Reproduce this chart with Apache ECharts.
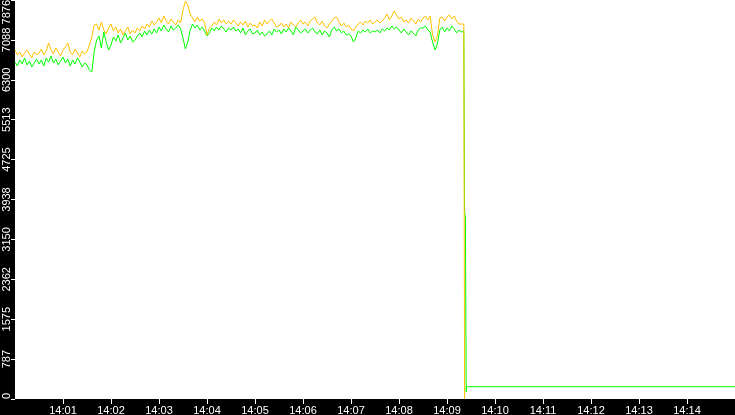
<!DOCTYPE html>
<html>
<head>
<meta charset="utf-8">
<script src="https://cdn.jsdelivr.net/npm/echarts@6/dist/echarts.min.js"></script>
<style>
html,body{margin:0;padding:0;background:#000;}
#chart{width:735px;height:415px;}
</style>
</head>
<body>
<div id="chart"></div>
<script>
// x axis: seconds after 14:00:00
const xMin = 0;
const xMax = 900;
const xTickSeconds = [60,120,180,240,300,360,420,480,540,600,660,720,780,840];
const xTickLabels = ['14:01','14:02','14:03','14:04','14:05','14:06','14:07','14:08','14:09','14:10','14:11','14:12','14:13','14:14'];

// y axis
const yMin = 0;
const yMax = 7876;
const yInterval = 787.6;
const yTickLabels = ['0','787','1575','2362','3150','3938','4725','5513','6300','7088','7876'];

// samples every 3 s from 14:00:00
const sampleSeconds = 3;

const yellowValues = [
6889,6790,6850,6751,6830,6889,6810,6731,6850,6790,
6830,6909,6790,6869,7027,6889,6810,6928,6850,6771,
6889,6948,7027,6850,6790,6909,6830,6751,6869,6810,
6850,6988,7146,7383,7402,7284,7442,7284,7205,7323,
7402,7264,7343,7225,7304,7185,7264,7343,7205,7284,
7225,7323,7264,7363,7304,7402,7343,7461,7383,7442,
7521,7422,7560,7461,7402,7501,7442,7383,7481,7422,
7679,7856,7777,7600,7521,7442,7540,7461,7501,7422,
7185,7323,7363,7442,7383,7501,7422,7481,7402,7461,
7402,7481,7422,7363,7442,7383,7461,7343,7422,7363,
7383,7323,7442,7363,7481,7402,7461,7501,7422,7343,
7363,7422,7343,7402,7323,7442,7383,7343,7422,7481,
7402,7442,7363,7461,7501,7540,7422,7383,7461,7363,
7323,7402,7461,7521,7540,7442,7363,7422,7343,7383,
7304,7264,7343,7402,7442,7383,7461,7422,7481,7402,
7442,7481,7422,7461,7521,7600,7481,7560,7659,7580,
7501,7540,7442,7481,7422,7521,7461,7402,7501,7442,
7521,7560,7481,7560,7185,7047,7166,7521,7540,7461,
7540,7580,7501,7560,7461,7402,7402,7402
];
const yellowTail = [[562, 0]];

const greenValues = [
6652,6573,6692,6613,6731,6593,6672,6553,6633,6711,
6613,6692,6573,6731,6652,6771,6633,6711,6593,6672,
6751,6633,6711,6573,6692,6613,6731,6652,6553,6633,
6593,6494,6455,6850,7086,7166,6928,7244,7047,6889,
6988,7146,7067,7185,7027,7126,7225,7086,7166,7047,
7086,7166,7225,7146,7264,7185,7284,7205,7304,7225,
7343,7264,7383,7304,7244,7363,7284,7323,7383,7304,
7126,6909,7047,7284,7402,7323,7383,7284,7343,7264,
7166,7225,7323,7264,7343,7284,7363,7304,7244,7323,
7284,7343,7264,7304,7225,7323,7185,7264,7304,7205,
7225,7284,7185,7244,7166,7205,7264,7185,7304,7244,
7284,7205,7304,7244,7323,7264,7185,7343,7284,7225,
7264,7304,7225,7284,7323,7244,7205,7284,7185,7264,
7225,7146,7284,7343,7264,7304,7225,7264,7185,7205,
7166,7047,7126,7264,7225,7284,7244,7304,7225,7264,
7244,7284,7225,7304,7264,7323,7284,7363,7304,7343,
7284,7225,7304,7244,7185,7264,7225,7166,7284,7323,
7323,7363,7284,7244,7047,6889,7007,7284,7343,7244,
7323,7264,7363,7304,7225,7284,7244,7264
];
const greenTail = [[562, 3677], [563, 3620], [564, 138], [564.5, 243], [900, 243]];

function toPairs(values, tail) {
  const out = values.map((v, i) => [i * sampleSeconds, v]);
  return out.concat(tail);
}

const chart = echarts.init(document.getElementById('chart'), null, {renderer: 'canvas'});
const labelFont = {color: '#fff', fontFamily: 'Liberation Sans', fontSize: 11};

chart.setOption({
  backgroundColor: '#000',
  animation: false,
  grid: {
    left: 15, right: 0, top: 0, bottom: 16,
    show: true, backgroundColor: '#fff', borderWidth: 0,
    outerBoundsMode: 'none'
  },
  xAxis: {
    type: 'value',
    min: xMin, max: xMax,
    axisLine: {show: true, lineStyle: {color: '#000'}},
    axisTick: {show: true, length: 5, lineStyle: {color: '#fff', width: 1}, customValues: xTickSeconds},
    axisLabel: Object.assign({
      margin: 6,
      customValues: xTickSeconds,
      formatter: function (v) {
        const i = xTickSeconds.indexOf(v);
        return i >= 0 ? xTickLabels[i] : '';
      }
    }, labelFont),
    splitLine: {show: false}
  },
  yAxis: {
    type: 'value',
    min: yMin, max: yMax, interval: yInterval,
    axisLine: {show: false},
    axisTick: {show: true, length: 4, lineStyle: {color: '#fff', width: 1}},
    axisLabel: Object.assign({
      rotate: 90,
      margin: 3,
      alignMaxLabel: 'right',
      alignMinLabel: 'left',
      formatter: function (v, idx) {
        const i = Math.round(v / yInterval);
        return yTickLabels[i] !== undefined ? yTickLabels[i] : '';
      }
    }, labelFont),
    splitLine: {show: false}
  },
  series: [
    {
      type: 'line', name: 'green', showSymbol: false, symbol: 'none',
      data: toPairs(greenValues, greenTail),
      lineStyle: {color: '#00ff00', width: 1},
      itemStyle: {color: '#00ff00'}
    },
    {
      type: 'line', name: 'yellow', showSymbol: false, symbol: 'none',
      data: toPairs(yellowValues, yellowTail),
      lineStyle: {color: '#ffc000', width: 1},
      itemStyle: {color: '#ffc000'}
    }
  ]
});
</script>
</body>
</html>
